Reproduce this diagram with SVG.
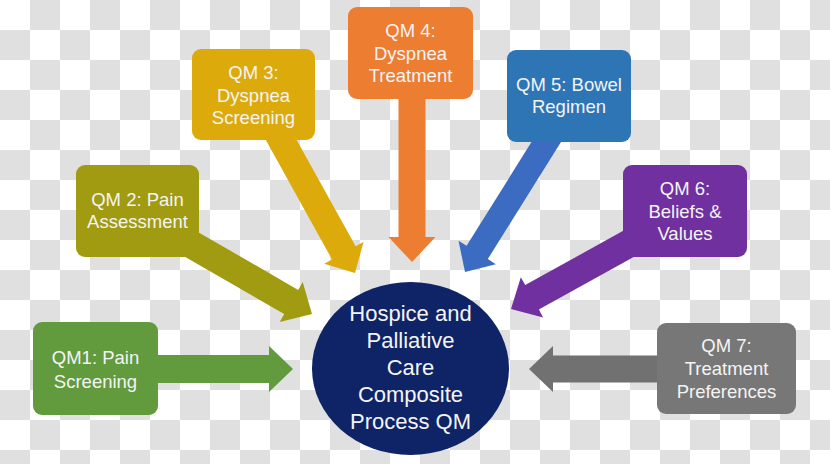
<svg xmlns="http://www.w3.org/2000/svg" width="830" height="464" viewBox="0 0 830 464">
<defs>
<pattern id="checker" x="0" y="0" width="60" height="60" patternUnits="userSpaceOnUse">
<rect width="60" height="60" fill="#ffffff"/>
<rect x="30" y="0" width="30" height="30" fill="#e0e0e0"/>
<rect x="0" y="30" width="30" height="30" fill="#e0e0e0"/>
</pattern>
</defs>
<style>
.box{stroke:none}
.lbl{font-family:"Liberation Sans",Arial,sans-serif;font-size:18.5px;fill:#f4f4f4;text-anchor:middle}
.big{font-family:"Liberation Sans",Arial,sans-serif;font-size:22px;fill:#f4f4f4;text-anchor:middle}
</style>
<rect width="830" height="464" fill="url(#checker)"/>
<g id="connectors">
<path transform="translate(293,369)" d="M0,0 L-24,-23 L-24,-14 L-150,-14 L-150,14 L-24,14 L-24,23 Z" fill="#619b3d"/>
<path transform="translate(312,314) rotate(30)" d="M0,0 L-24,-23 L-24,-14 L-165,-14 L-165,14 L-24,14 L-24,23 Z" fill="#a09b10"/>
<path transform="translate(355,273) rotate(61)" d="M0,0 L-23,-22.5 L-23,-13.5 L-175,-13.5 L-175,13.5 L-23,13.5 L-23,22.5 Z" fill="#dcaa0b"/>
<path transform="translate(412,262) rotate(90)" d="M0,0 L-25,-23.5 L-25,-13.5 L-182,-13.5 L-182,13.5 L-25,13.5 L-25,23.5 Z" fill="#ed7d31"/>
<path transform="translate(465,272) rotate(122)" d="M0,0 L-23,-22 L-23,-12.5 L-180,-12.5 L-180,12.5 L-23,12.5 L-23,22 Z" fill="#3b6cc1"/>
<path transform="translate(511,309) rotate(151)" d="M0,0 L-24,-23 L-24,-14 L-170,-14 L-170,14 L-24,14 L-24,23 Z" fill="#7030a0"/>
<path transform="translate(529,369) rotate(180)" d="M0,0 L-24,-23 L-24,-13.5 L-171,-13.5 L-171,13.5 L-24,13.5 L-24,23 Z" fill="#717171"/>
</g>
<g id="qm1">
<rect class="box" x="33" y="322" width="125" height="93" rx="9" fill="#619b3d"/>
<text class="lbl" x="95.5" y="364">QM1: Pain</text>
<text class="lbl" x="95.5" y="388">Screening</text>
</g>
<g id="qm2">
<rect class="box" x="76" y="165" width="123" height="92" rx="9" fill="#a09b10"/>
<text class="lbl" x="137.5" y="206">QM 2: Pain</text>
<text class="lbl" x="137.5" y="228">Assessment</text>
</g>
<g id="qm3">
<rect class="box" x="192" y="49" width="123" height="91" rx="9" fill="#dcaa0b"/>
<text class="lbl" x="253.5" y="79">QM 3:</text>
<text class="lbl" x="253.5" y="101.5">Dyspnea</text>
<text class="lbl" x="253.5" y="124">Screening</text>
</g>
<g id="qm4">
<rect class="box" x="348" y="7" width="125" height="92" rx="9" fill="#ed7d31"/>
<text class="lbl" x="410.5" y="37">QM 4:</text>
<text class="lbl" x="410.5" y="59.5">Dyspnea</text>
<text class="lbl" x="410.5" y="82">Treatment</text>
</g>
<g id="qm5">
<rect class="box" x="507" y="50" width="124" height="92" rx="9" fill="#2e75b6"/>
<text class="lbl" x="569" y="90.5">QM 5: Bowel</text>
<text class="lbl" x="569" y="112.5">Regimen</text>
</g>
<g id="qm6">
<rect class="box" x="623" y="165" width="124" height="92" rx="9" fill="#7030a0"/>
<text class="lbl" x="685" y="195">QM 6:</text>
<text class="lbl" x="685" y="217.5">Beliefs &amp;</text>
<text class="lbl" x="685" y="240">Values</text>
</g>
<g id="qm7">
<rect class="box" x="657" y="323" width="139" height="91" rx="9" fill="#777777"/>
<text class="lbl" x="726.5" y="352">QM 7:</text>
<text class="lbl" x="726.5" y="375">Treatment</text>
<text class="lbl" x="726.5" y="397.5">Preferences</text>
</g>
<g id="composite">
<ellipse cx="410.5" cy="368.5" rx="98.5" ry="86.5" fill="#0f2466"/>
<text class="big" x="410.5" y="321">Hospice and</text>
<text class="big" x="410.5" y="348">Palliative</text>
<text class="big" x="410.5" y="375">Care</text>
<text class="big" x="410.5" y="402">Composite</text>
<text class="big" x="410.5" y="429">Process QM</text>
</g>
</svg>
